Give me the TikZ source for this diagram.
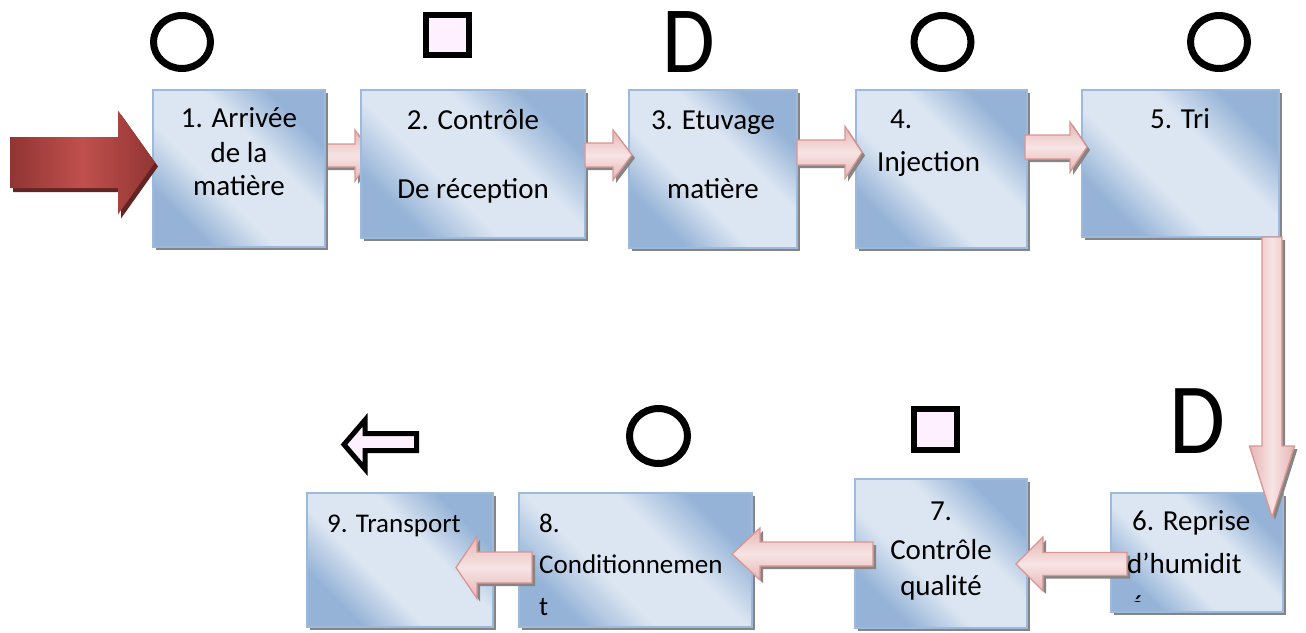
\documentclass[tikz,border=0pt]{standalone}
\usepackage{fontspec}
\setmainfont{Carlito}
\usetikzlibrary{shapes.geometric,shadows}
\definecolor{boxdark}{HTML}{95B3D7}
\definecolor{boxlight}{HTML}{DCE6F2}
\definecolor{boxline}{HTML}{9DBADC}
\definecolor{pinkdark}{HTML}{E6B5B4}
\definecolor{pinklight}{HTML}{F7E4E4}
\definecolor{pinkline}{HTML}{D99694}
\definecolor{reddark}{HTML}{913533}
\definecolor{redlight}{HTML}{C0504D}
\definecolor{redshadow}{HTML}{632523}
\definecolor{symfill}{HTML}{FFF0FF}
\definecolor{shadowgray}{HTML}{858585}
\pgfdeclareverticalshading{boxshade}{100bp}{color(0bp)=(boxdark); color(27bp)=(boxdark); color(41bp)=(boxlight); color(59bp)=(boxlight); color(73bp)=(boxdark); color(100bp)=(boxdark)}
% horizontal block arrow: style, x start, x head base, x tip, y centre, shaft half, head half
\newcommand\blockH[7]{\path[#1] (#2,#5-#6) -- (#3,#5-#6) -- (#3,#5-#7) -- (#4,#5) -- (#3,#5+#7) -- (#3,#5+#6) -- (#2,#5+#6) -- cycle;}
% vertical block arrow: style, y start, y head base, y tip, x centre, shaft half, head half
\newcommand\blockV[7]{\path[#1] (#5-#6,#2) -- (#5-#6,#3) -- (#5-#7,#3) -- (#5,#4) -- (#5+#7,#3) -- (#5+#6,#3) -- (#5+#6,#2) -- cycle;}
\begin{document}
\begin{tikzpicture}[x=1pt,y=-1pt,
  procbox/.style={rectangle, draw=boxline, line width=1.5pt, inner sep=0pt,
    shading=boxshade, shading angle=-45,
    drop shadow={shadow xshift=3pt, shadow yshift=-3pt, fill=shadowgray, opacity=1}},
  pinkH/.style={draw=pinkline, line width=1.3pt, line join=miter,
    top color=pinkdark, bottom color=pinkdark, middle color=pinklight,
    drop shadow={shadow xshift=3pt, shadow yshift=-3pt, fill=shadowgray, opacity=1}},
  pinkV/.style={draw=pinkline, line width=1.3pt, line join=miter,
    left color=pinkdark, right color=pinkdark, middle color=pinklight,
    drop shadow={shadow xshift=3pt, shadow yshift=-3pt, fill=shadowgray, opacity=1}},
  redarrow/.style={left color=reddark, right color=reddark, middle color=redlight,
    drop shadow={shadow xshift=3pt, shadow yshift=-4pt, fill=redshadow, opacity=1}},
  circsym/.style={ellipse, draw=black, line width=7pt, inner sep=0pt},
  sqsym/.style={rectangle, draw=black, line width=6pt, fill=symfill, inner sep=0pt},
  dsym/.style={inner sep=0pt, anchor=base},
  txt/.style={inner sep=0pt, font=\fontsize{29}{34}\selectfont},
  txts/.style={inner sep=0pt, font=\fontsize{27}{32}\selectfont}
]
\fill[white] (0,0) rectangle (1306,632);
\useasboundingbox (0,0) rectangle (1306,632);

% arrow 1 -> 2 (lies under box 2)
\blockH{pinkH}{325}{355}{373}{155.5}{11.5}{25.5}

% process boxes
\node[procbox, minimum width=172pt, minimum height=157pt] (b1) at (239,168.5) {};
\node[procbox, minimum width=224pt, minimum height=148pt] (b2) at (473,164) {};
\node[procbox, minimum width=168pt, minimum height=158pt] (b3) at (713,169) {};
\node[procbox, minimum width=171pt, minimum height=158pt] (b4) at (941.5,169) {};
\node[procbox, minimum width=197pt, minimum height=147pt] (b5) at (1180.5,163.5) {};
\node[procbox, minimum width=172pt, minimum height=119pt] (b6) at (1197,552.5) {};
\node[procbox, minimum width=172pt, minimum height=149pt] (b7) at (941,553.5) {};
\node[procbox, minimum width=233pt, minimum height=134pt] (b8) at (635.5,560) {};
\node[procbox, minimum width=186pt, minimum height=134pt] (b9) at (400,560) {};

% incoming red arrow
\blockH{redarrow}{10}{118}{155}{162.5}{25.5}{52}

% connectors between the boxes
\blockH{pinkH}{585}{613}{632}{155}{12}{25}
\blockH{pinkH}{797}{845}{862}{152.5}{12.5}{26}
\blockH{pinkH}{1025}{1070}{1087}{147}{12}{25}
\blockV{pinkV}{237}{446}{517}{1272}{10}{22.5}
\blockH{pinkH}{1127}{1043}{1016}{564}{11.5}{27}
\blockH{pinkH}{873}{760}{732}{554}{12}{26}
\blockH{pinkH}{532}{477}{456}{567.5}{15.5}{31}

% symbols
\node[circsym, minimum width=57pt, minimum height=53pt] (c1) at (182,42) {};
\node[sqsym, minimum width=43pt, minimum height=40pt] (s2) at (447.5,35) {};
\node[dsym, font=\fontsize{95}{95}\selectfont] (d3) at (688.5,72) {\scalebox{0.9}[1]{D}};
\node[circsym, minimum width=57pt, minimum height=53pt] (c4) at (942.5,42) {};
\node[circsym, minimum width=57pt, minimum height=53pt] (c5) at (1219,42) {};
\node[dsym, font=\fontsize{101}{101}\selectfont] (d6) at (1197.5,453) {\scalebox{0.9}[1]{D}};
\node[sqsym, minimum width=43pt, minimum height=41pt] (s7) at (935.5,429.5) {};
\node[circsym, minimum width=58pt, minimum height=55pt] (c8) at (658.5,436) {};
\draw[line width=5pt, fill=symfill, line join=miter]
  (416.5,433.5) -- (365,433.5) -- (365,420) -- (344,444.5) -- (365,469) -- (365,450.5) -- (416.5,450.5) -- cycle;

% texts
\node[txt, anchor=base] (t1a) at (239,127) {1. Arrivée};
\node[txt, anchor=base] (t1b) at (239,162) {de la};
\node[txt, anchor=base] (t1c) at (239,195) {matière};
\node[txt, anchor=base] (t2a) at (473,129) {2. Contrôle};
\node[txt, anchor=base] (t2b) at (473,198) {De réception};
\node[txt, anchor=base] (t3a) at (713,129) {3. Etuvage};
\node[txt, anchor=base] (t3b) at (713,198) {matière};
\node[txt, anchor=base west] (t4a) at (890,128) {4.};
\node[txt, anchor=base west] (t4b) at (877,171) {Injection};
\node[txt, anchor=base] (t5a) at (1180,128) {5. Tri};
\node[txt, anchor=base west] (t6a) at (1132,530) {6. Reprise};
\node[txt, anchor=base west] (t6b) at (1127,573) {d’humidit};
\begin{scope}
  \clip (1100,480) rectangle (1290,601);
  \node[txt, anchor=base west] (t6c) at (1130,615.5) {é};
\end{scope}
\node[txt, anchor=base] (t7a) at (941,520) {7.};
\node[txt, anchor=base] (t7b) at (941,559) {Contrôle};
\node[txt, anchor=base] (t7c) at (941,595) {qualité};
\node[txts, anchor=base west] (t8a) at (539,532) {8.};
\node[txts, anchor=base west] (t8b) at (539,573) {Conditionnemen};
\node[txts, anchor=base west] (t8c) at (539,615) {t};
\node[txts, anchor=base west] (t9a) at (327,532) {9. Transport};
\end{tikzpicture}
\end{document}
